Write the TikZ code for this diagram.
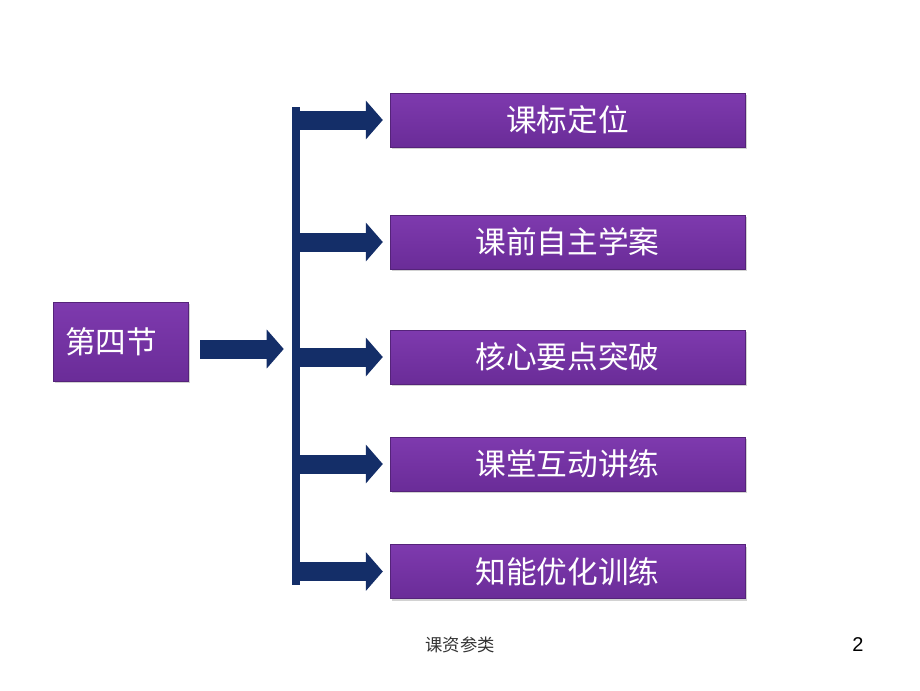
\documentclass[tikz,border=0pt]{standalone}
\usepackage{fontspec}
\newfontfamily\cjk{Noto Sans CJK SC}
\setmainfont{Liberation Sans}
\usetikzlibrary{arrows.meta,shadows,calc}
\definecolor{boxpurple}{RGB}{112,48,160}
\definecolor{boxtop}{RGB}{126,58,174}
\definecolor{boxbot}{RGB}{106,44,152}
\definecolor{navy}{RGB}{20,46,104}
\tikzset{
  itembox/.style={rectangle, top color=boxtop, bottom color=boxbot, draw=boxbot!80!black, line width=0.3pt,
    minimum width=355*0.75pt, minimum height=54*0.75pt, inner sep=0pt,
    text=white, font=\cjk\fontsize{23}{27}\selectfont,
    drop shadow={shadow xshift=1.5pt, shadow yshift=-1.5pt, opacity=0.35}},
  secbox/.style={itembox, minimum width=135*0.75pt, minimum height=79*0.75pt,
    text width=111*0.75pt, align=left, inner xsep=12*0.75pt},
  navyarrow/.style={draw=navy, line width=19*0.75pt,
    -{Triangle[width=38*0.75pt,length=17*0.75pt]}},
  barbox/.style={rectangle, fill=navy, minimum width=8*0.75pt, minimum height=478*0.75pt, inner sep=0pt},
}
\begin{document}
\begin{tikzpicture}[x=0.75pt,y=-0.75pt]
\useasboundingbox (0,0) rectangle (920,690);
\fill[white] (0,0) rectangle (920,690);
\node[secbox] (sec) at (120.5,341.5) {第四节};
\node[barbox] (bar) at (296,346) {};
\node[itembox] (b1) at (567.5,120) {课标定位};
\node[itembox] (b2) at (567.5,242) {课前自主学案};
\node[itembox] (b3) at (567.5,357) {核心要点突破};
\node[itembox] (b4) at (567.5,464) {课堂互动讲练};
\node[itembox] (b5) at (567.5,571.5) {知能优化训练};
\draw[navyarrow, shorten <=12*0.75pt, shorten >=8*0.75pt] (sec.east |- 0,349) -- (bar.west |- 0,349);
\foreach \b in {b1,b2,b3,b4,b5}{
  \draw[navyarrow, shorten >=7*0.75pt] (bar.east |- \b.west) -- (\b.west);
}
\node[font=\cjk\fontsize{13}{15}\selectfont, text=black!80] (foot) at (460,645) {课资参类};
\node[font=\fontsize{15}{17}\selectfont] (pg) at (858,645) {2};
\end{tikzpicture}
\end{document}
